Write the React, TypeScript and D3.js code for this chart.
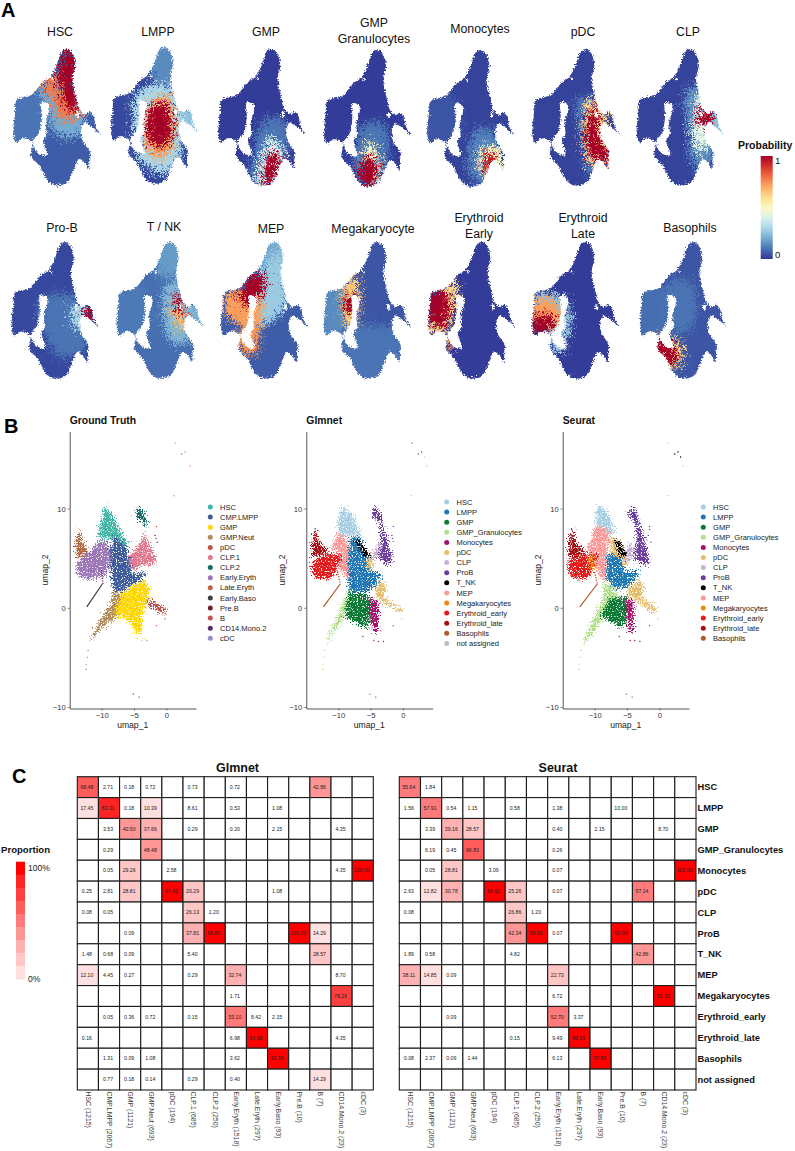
import React, { useEffect, useRef } from "react";
import * as d3 from "d3";

type Pt = [number, number];
type Region = { p: number; pts: Pt[] };
type Cluster = { name: string; pts: Pt[] };
type Dot = [number, number, string];

const FONT = "'Liberation Sans', Arial, sans-serif";

// panel A: shape of the embedding, in its own units
const outline: Pt[] = [
  [8, 0], [23, 15], [31, 50], [23, 90], [35, 150], [43, 180], [60, 195], [73, 188], [85, 200], [91, 230],
  [105, 255], [83, 235], [68, 225], [61, 220], [50, 235], [51, 270], [75, 310], [73, 330], [71, 360], [58, 340],
  [43, 330], [23, 370], [8, 400], [-27, 410], [-52, 395], [-77, 350], [-102, 320], [-99, 280], [-127, 268],
  [-147, 280], [-155, 255], [-150, 190], [-145, 153], [-100, 138], [-67, 100], [-45, 85], [-28, 55], [-17, 25], [-8, 5],
];
const holeMain: Pt[] = [
  [-70, 160], [-50, 165], [-48, 185], [-58, 220], [-56, 258], [-66, 272], [-55, 318], [-75, 316], [-93, 296],
  [-97, 278], [-78, 250], [-70, 205],
];
const holeRight: Pt[] = [[35, 185], [43, 190], [42, 205], [33, 200]];
const holeTop: Pt[] = [[-42, 85], [-32, 88], [-35, 95]];

const lobeArea: Pt[] = [[-165, 140], [-70, 140], [-60, 270], [-150, 295], [-170, 250]];
const topArea: Pt[] = [[-30, -5], [40, -5], [40, 100], [-30, 100]];
const wingArea: Pt[] = [[55, 185], [115, 185], [115, 265], [55, 240]];
const lowerArea: Pt[] = [[-110, 270], [80, 270], [80, 420], [-110, 420]];

const hscRegions: Region[] = [
  { p: 0.1, pts: lobeArea },
  { p: 0.2, pts: [[-80, 120], [45, 120], [55, 250], [-20, 260], [-60, 170]] },
  { p: 0.78, pts: [[-70, 105], [-25, 75], [-20, 130], [30, 150], [50, 195], [-5, 215], [-40, 150]] },
  { p: 1, pts: [[8, -5], [30, 20], [35, 60], [28, 100], [40, 150], [45, 180], [15, 185], [-10, 150], [-15, 110], [-22, 80], [-12, 30]] },
];
const lmppRegions: Region[] = [
  { p: 0.14, pts: topArea },
  { p: 0.25, pts: wingArea },
  { p: 0.3, pts: [[-85, 150], [-20, 110], [40, 130], [60, 230], [45, 350], [0, 380], [-70, 340], [-85, 250]] },
  { p: 0.72, pts: [[-60, 220], [-30, 160], [10, 145], [35, 200], [40, 260], [20, 320], [-5, 335], [-45, 310]] },
  { p: 1, pts: [[-50, 230], [-30, 175], [5, 165], [25, 210], [25, 270], [5, 300], [-35, 290]] },
];
const gmpRegions: Region[] = [
  { p: 0.1, pts: [[-20, 210], [40, 210], [60, 310], [20, 405], [-60, 405], [-50, 300]] },
  { p: 0.4, pts: [[0, 265], [45, 320], [30, 390], [-40, 410], [-30, 340]] },
  { p: 1, pts: [[10, 300], [30, 340], [15, 380], [-5, 408], [-25, 405], [-15, 360], [-5, 320]] },
];
const granRegions: Region[] = [
  { p: 0.1, pts: [[-40, 220], [25, 220], [40, 320], [10, 400], [-60, 390]] },
  { p: 0.5, pts: [[-15, 270], [10, 330], [10, 400], [-30, 405], [-45, 340]] },
  { p: 1, pts: [[-30, 320], [-5, 320], [5, 370], [-5, 400], [-35, 405], [-52, 370]] },
];
const monoRegions: Region[] = [
  { p: 0.05, pts: lobeArea },
  { p: 0.12, pts: [[-10, 240], [55, 250], [70, 330], [10, 400], [-30, 370]] },
  { p: 0.5, pts: [[10, 290], [70, 300], [70, 355], [35, 375], [5, 370]] },
  { p: 0.95, pts: [[25, 310], [50, 315], [40, 350], [20, 365], [12, 345]] },
];
const pdcRegions: Region[] = [
  { p: 0.1, pts: [[-20, 150], [50, 150], [60, 320], [10, 380], [-10, 260]] },
  { p: 0.6, pts: [[15, 150], [55, 170], [80, 300], [75, 360], [20, 345], [-5, 270]] },
  { p: 1, pts: [[30, 165], [48, 195], [45, 240], [70, 310], [73, 350], [55, 345], [20, 320], [5, 270], [10, 210]] },
];
const clpRegions: Region[] = [
  { p: 0.14, pts: [[-5, 120], [60, 120], [75, 330], [20, 360], [0, 250]] },
  { p: 0.25, pts: wingArea },
  { p: 0.42, pts: [[25, 140], [55, 170], [65, 260], [40, 310], [15, 280], [15, 190]] },
  { p: 1, pts: [[28, 182], [68, 180], [68, 228], [32, 226]] },
];
const probRegions: Region[] = [
  { p: 0.1, pts: [[-70, 170], [55, 170], [60, 330], [-20, 340]] },
  { p: 0.3, pts: [[28, 190], [58, 190], [58, 250], [35, 262]] },
  { p: 1, pts: [[60, 195], [85, 195], [93, 230], [110, 260], [85, 240], [65, 225]] },
];
const tnkRegions: Region[] = [
  { p: 0.11, pts: lobeArea },
  { p: 0.17, pts: topArea },
  { p: 0.2, pts: wingArea },
  { p: 0.22, pts: [[-10, 130], [55, 130], [60, 300], [10, 300]] },
  { p: 0.66, pts: [[10, 185], [50, 200], [50, 260], [25, 250]] },
  { p: 1, pts: [[25, 155], [43, 165], [43, 225], [28, 210]] },
];
const mepRegions: Region[] = [
  { p: 0.2, pts: topArea },
  { p: 0.27, pts: [[-25, 75], [30, 20], [35, 100], [40, 190], [-30, 250]] },
  { p: 0.72, pts: [[-140, 160], [-100, 140], [-60, 110], [-35, 170], [-45, 280], [-80, 260], [-140, 220]] },
  { p: 0.74, pts: [[-103, 265], [-50, 270], [-50, 335], [-90, 330]] },
  { p: 1, pts: [[-70, 105], [-25, 100], [-25, 140], [-50, 175], [-80, 195], [-100, 165]] },
];
const megaRegions: Region[] = [
  { p: 0.14, pts: lobeArea },
  { p: 0.1, pts: lowerArea },
  { p: 0.65, pts: [[-90, 110], [-60, 100], [-55, 220], [-80, 260], [-100, 220]] },
  { p: 1, pts: [[-90, 160], [-65, 165], [-60, 200], [-85, 215]] },
];
const eeRegions: Region[] = [
  { p: 0.6, pts: [[-90, 110], [-70, 130], [-75, 220], [-110, 270], [-150, 285], [-160, 240]] },
  { p: 0.75, pts: [[-100, 275], [-85, 275], [-85, 320], [-100, 325]] },
  { p: 1, pts: [[-155, 190], [-145, 150], [-100, 150], [-90, 220], [-120, 260], [-150, 250]] },
];
const elRegions: Region[] = [
  { p: 0.25, pts: [[-150, 150], [-100, 150], [-50, 180], [-50, 290], [-100, 300]] },
  { p: 0.3, pts: [[-100, 275], [-60, 275], [-60, 330], [-95, 320]] },
  { p: 0.72, pts: [[-150, 180], [-85, 175], [-70, 240], [-110, 270], [-155, 265]] },
  { p: 1, pts: [[-155, 230], [-110, 215], [-85, 240], [-110, 265], [-145, 280], [-155, 265]] },
];
const basoRegions: Region[] = [
  { p: 0.09, pts: lobeArea },
  { p: 0.1, pts: [[-70, 120], [0, 120], [0, 260], [-70, 260]] },
  { p: 0.62, pts: [[-115, 285], [-50, 290], [-25, 330], [-40, 375], [-90, 370]] },
  { p: 1, pts: [[-112, 298], [-85, 285], [-50, 322], [-38, 352], [-60, 368], [-92, 348]] },
];

const probNames = ["HSC", "LMPP", "GMP", "GMP|Granulocytes", "Monocytes", "pDC", "CLP", "Pro-B", "T / NK", "MEP", "Megakaryocyte", "Erythroid|Early", "Erythroid|Late", "Basophils"];
const probBase = [0.06, 0.03, 0.01, 0.01, 0.02, 0.02, 0.02, 0.03, 0.09, 0.06, 0.05, 0.01, 0.01, 0.05];
const probRegionList = [hscRegions, lmppRegions, gmpRegions, granRegions, monoRegions, pdcRegions, clpRegions, probRegions, tnkRegions, mepRegions, megaRegions, eeRegions, elRegions, basoRegions];
// where each small panel sits on the page: x of the shape's origin, y of its top, title position
const probX = [65, 162.7, 270, 375.7, 479, 584, 688.4, 63.3, 168.3, 272.7, 375.7, 480, 584, 691.7];
const probY = [49, 47, 49, 50, 50, 49, 49, 242, 242, 242, 242, 242, 242, 242];
const titleX = [60, 158, 266, 374, 480, 583, 688, 62, 164, 271, 373, 479, 583, 690];
const titleY = [36, 36, 36, 27, 33, 36, 36, 232, 231, 233, 233, 222, 222, 232];
const fieldBox: Pt[] = [[-175, -15], [125, -15], [125, 425], [-175, 425]];

// panel B: clusters in umap coordinates
const gtColors: Record<string, string> = {
  HSC: "#41B6A6", "CMP.LMPP": "#3F5C9A", GMP: "#FFD700", "GMP.Neut": "#B08D5B", pDC: "#C0524E", "CLP.1": "#E07A8E",
  "CLP.2": "#176A6A", "Early.Eryth": "#9C77B8", "Late.Eryth": "#B5673F", "Early.Baso": "#3F3F3F", "Pre.B": "#6E1F28",
  B: "#C2504F", "CD14.Mono.2": "#5A2A6A", cDC: "#9A8CC8",
};
const methodColors: Record<string, string> = {
  HSC: "#A6CEE3", LMPP: "#1F78B4", GMP: "#0B7A34", GMP_Granulocytes: "#B2DF8A", Monocytes: "#A6126B", pDC: "#E5BE6D",
  CLP: "#CAB2D6", ProB: "#6A3D9A", T_NK: "#000000", MEP: "#FB9A99", Megakaryocytes: "#F08A0C", Erythroid_early: "#E31A1C",
  Erythroid_late: "#A50F15", Basophils: "#B15928", "not assigned": "#BEBEBE",
};

const gtClusters: Cluster[] = [
  { name: "GMP.Neut", pts: [[-7.9, 1.9], [-6.9, 1.4], [-7.6, -0.9], [-9.7, -1.8], [-11.3, -3.0], [-12.1, -3.8], [-10.3, -1.3], [-8.7, 0.25]] },
  { name: "GMP", pts: [[-3.3, 2.8], [-2.5, 1.75], [-3.0, 0.7], [-3.8, -0.9], [-3.8, -2.6], [-4.6, -2.5], [-5.9, -1.3], [-7.7, -0.9], [-7.9, -0.4], [-6.9, 1.4], [-5.1, 2.25]] },
  { name: "pDC", pts: [[-2.8, 0.85], [0.1, -0.2], [-0.5, -0.6], [-3, 0.3]] },
  { name: "HSC", pts: [[-9.5, 10.3], [-8.5, 9.5], [-6.9, 7.5], [-5.9, 6.5], [-6.2, 6.1], [-7.9, 7.1], [-9.2, 6.8], [-10.5, 7.1], [-10.3, 8.1], [-9.7, 9.5]] },
  { name: "CLP.1", pts: [[-3.6, 7.6], [-2.8, 6.6], [-1.5, 4.8], [-2, 4.4], [-3.8, 4.3], [-5.1, 3.8], [-5.9, 3.8], [-5.9, 5.1], [-4.6, 6.0], [-3.8, 6.8]] },
  { name: "CLP.2", pts: [[-4.3, 10.2], [-3.6, 9.7], [-3.0, 8.8], [-3.3, 8], [-3.8, 8.8], [-4.8, 9.3]] },
  { name: "Late.Eryth", pts: [[-13.5, 8.1], [-13.1, 6.8], [-12.1, 5.6], [-13.4, 5.1], [-14, 5.1], [-14, 6.5]] },
  { name: "Early.Eryth", pts: [[-10.5, 6.8], [-9.2, 6.6], [-8.6, 5.5], [-8.7, 4.4], [-9.7, 3.1], [-11.8, 2.9], [-13.6, 3.1], [-14.1, 4.4], [-12.8, 5.1], [-11.3, 6.0]] },
  { name: "CMP.LMPP", pts: [[-7.9, 7.2], [-6.9, 6.6], [-6.1, 6.0], [-5.6, 4.4], [-5.4, 3.4], [-3.0, 3.6], [-3.8, 2.9], [-5.1, 2.4], [-6.6, 1.75], [-7.9, 1.6], [-8.5, 2.6], [-8.7, 4.8], [-8.7, 6.1]] },
];
const gtStrips: Cluster[] = [
  { name: "Early.Baso", pts: [[-12.3, 0.1], [-9.9, 2.4]] },
  { name: "CD14.Mono.2", pts: [[-10.0, 3.8], [-9.8, 2.4]] },
];
const glmnetClusters: Cluster[] = [
  { name: "GMP_Granulocytes", pts: [[-8.4, 1.9], [-8, 1.3], [-9.2, -0.9], [-10.8, -2.6], [-12.1, -3.8], [-10.8, -1.9], [-9.5, 0]] },
  { name: "pDC", pts: [[-3.5, 2.8], [-2.5, 2.1], [-3, 1.2], [0.1, -0.3], [-0.7, -0.4], [-4, 1], [-4.3, 1.9]] },
  { name: "GMP", pts: [[-8.4, 1.4], [-5.3, 1.4], [-5, 0], [-5.3, -2], [-6.9, -1.6], [-9, -0.9]] },
  { name: "Monocytes", pts: [[-5.1, 1.1], [-3.8, 0.4], [-3.8, -2.5], [-4.6, -2.3], [-5.1, -0.6]] },
  { name: "HSC", pts: [[-9.6, 10.3], [-7.7, 9.3], [-6.4, 7.1], [-8.4, 7.3], [-10, 7.5], [-10, 8.8]] },
  { name: "MEP", pts: [[-9, 7.3], [-10, 7.5], [-11.2, 6], [-9.7, 5.5], [-10.4, 4.4], [-8.4, 2.8], [-8.2, 4.4], [-8.4, 5.9]] },
  { name: "LMPP", pts: [[-8.2, 7.1], [-6.6, 7.1], [-5.3, 5.1], [-5.1, 3.6], [-3.3, 3.6], [-4, 2.4], [-5.6, 1.6], [-8.4, 1.6], [-8.4, 4.8]] },
  { name: "pDC", pts: [[-5.6, 5.4], [-4.6, 5.4], [-4.5, 4.2], [-5.1, 3.7], [-5.6, 4.3]] },
  { name: "CLP", pts: [[-3.3, 6.8], [-4, 6.1], [-5.1, 5.1], [-4.9, 4.7], [-3.5, 5.5]] },
  { name: "ProB", pts: [[-4.5, 10.2], [-3.5, 9.7], [-3.3, 8.7], [-1.7, 5.1], [-1.55, 4.5], [-2.7, 4.4], [-3.8, 5.1], [-3.3, 6.5], [-3.7, 8.7], [-4.8, 9.3]] },
  { name: "T_NK", pts: [[-7.4, 6.8], [-6.9, 6.9], [-5.2, 5.4], [-5.3, 5.0], [-6.2, 5.4]] },
  { name: "Erythroid_late", pts: [[-13.5, 8.1], [-13, 6.6], [-11.5, 5.6], [-14.1, 5], [-14.1, 6.4]] },
  { name: "Erythroid_early", pts: [[-14.1, 4.6], [-12, 5.4], [-9.5, 5.4], [-10, 4.2], [-10.8, 3.2], [-11.5, 2.9], [-13.6, 3], [-14.1, 3.8]] },
];
const glmnetStrips: Cluster[] = [
  { name: "Basophils", pts: [[-12.3, 0.1], [-9.7, 2.4]] },
  { name: "Basophils", pts: [[-10.1, 3.7], [-9.7, 2.4]] },
];
const seuratClusters: Cluster[] = [
  { name: "GMP_Granulocytes", pts: [[-8.4, 2.7], [-6.9, 1.9], [-6.3, 1.4], [-8.4, -0.6], [-10.3, -2.6], [-12, -3.8], [-10.5, -1.6], [-8.9, 0.6]] },
  { name: "pDC", pts: [[-3.2, 2.9], [-2.3, 2], [-2.8, 1.1], [0, -0.3], [-0.8, -0.5], [-4.6, 1.1], [-5, 1.7]] },
  { name: "GMP", pts: [[-7.6, 1], [-5, 1.2], [-5.2, -1.5], [-6, -2], [-8.3, -1.1], [-9.2, -1]] },
  { name: "Monocytes", pts: [[-5.3, 1.1], [-4, 0.6], [-3.9, -2.5], [-4.6, -2.3], [-5.1, -0.6]] },
  { name: "HSC", pts: [[-9.4, 10.3], [-7.9, 9.6], [-6.9, 7.6], [-7.5, 7.3], [-8.5, 8], [-9.8, 8.2], [-9.9, 9.2]] },
  { name: "MEP", pts: [[-9.9, 8.2], [-8.4, 8], [-7.6, 7.2], [-8.1, 6], [-8.2, 4], [-8, 3], [-8.9, 2.7], [-9.8, 4.3], [-10.7, 5.5], [-11.2, 6], [-10.5, 7]] },
  { name: "pDC", pts: [[-7.8, 7], [-6, 6.8], [-5.2, 5], [-5, 4.2], [-6.5, 4.5], [-7.5, 5.5]] },
  { name: "LMPP", pts: [[-8, 5.5], [-6.5, 5.2], [-5.6, 4.8], [-5.6, 3.7], [-3, 3.7], [-3.8, 2.8], [-5.2, 2], [-6.6, 1.9], [-8.2, 2.8], [-8.3, 4]] },
  { name: "CLP", pts: [[-4.8, 6.5], [-4, 6.3], [-4.3, 4.8], [-5.2, 4.4], [-5.2, 5.2]] },
  { name: "ProB", pts: [[-4.5, 10.2], [-3.5, 9.7], [-3.2, 8.7], [-1.6, 5.1], [-1.5, 4.5], [-2.7, 4.4], [-3.9, 5.1], [-3.5, 6.5], [-3.7, 8.7], [-4.8, 9.3]] },
  { name: "T_NK", pts: [[-7, 6.8], [-6.4, 6.9], [-5.1, 5.5], [-5.4, 5.1], [-6.2, 5.4]] },
  { name: "Erythroid_late", pts: [[-13.4, 8.2], [-13, 6.6], [-11.3, 5.6], [-14.1, 5], [-14.1, 6.4]] },
  { name: "Erythroid_early", pts: [[-14.1, 4.7], [-12, 5.4], [-9.5, 5.4], [-10, 4.2], [-10.8, 3.2], [-11.5, 2.9], [-13.6, 3], [-14.1, 3.8]] },
  { name: "Megakaryocytes", pts: [[-11, 5.2], [-10.2, 5.2], [-10, 3.8], [-10.7, 3.8]] },
];
const seuratStrips: Cluster[] = [
  { name: "Basophils", pts: [[-12.3, 0.1], [-9.6, 2.4]] },
  { name: "Basophils", pts: [[-10, 3.6], [-9.6, 2.4]] },
];

const gtDots: Dot[] = [
  [1.4, 16.6, "CLP.1"], [2.4, 15.5, "B"], [2.9, 15.7, "CLP.1"], [3.7, 14.3, "CLP.1"], [1.2, 11.3, "CLP.1"],
  [-1.5, 8.2, "B"], [-1.75, 7.3, "Pre.B"], [-1.4, 6.6, "Pre.B"], [-1.6, 7.0, "Pre.B"], [-1.5, -1.8, "B"], [-0.2, -1.1, "B"],
  [-5.1, -8.7, "CD14.Mono.2"], [-4.2, -9.0, "Pre.B"], [-3, -3.3, "cDC"], [-3.8, -3.3, "GMP"], [-4.5, -3.1, "GMP"], [-3.3, -3.1, "GMP"],
  [-12.4, -6.2, "GMP.Neut"], [-12.4, -5.7, "GMP.Neut"], [-12.2, -5.0, "GMP.Neut"], [-12.1, -4.3, "GMP.Neut"],
];
const glmnetDots: Dot[] = [
  [1.4, 16.6, "ProB"], [2.4, 15.5, "ProB"], [2.9, 15.7, "ProB"], [3.3, 15.2, "HSC"], [3.7, 14.3, "HSC"], [1.3, 11.3, "HSC"],
  [-1.5, 8.2, "ProB"], [-1.7, 7.3, "ProB"], [-1.5, 6.7, "ProB"], [-1.6, 7.0, "ProB"], [-1.5, -1.8, "Monocytes"], [-0.2, -1.1, "pDC"],
  [-5.1, -8.7, "Monocytes"], [-4.2, -9.0, "GMP"], [-3, -3.4, "Monocytes"], [-3.8, -3.4, "Monocytes"], [-4.5, -3.3, "Monocytes"], [-6.2, -2.9, "GMP"],
  [-12.4, -6.2, "GMP_Granulocytes"], [-12.4, -5.7, "GMP_Granulocytes"], [-12.2, -5.0, "GMP_Granulocytes"], [-12.1, -4.3, "GMP_Granulocytes"],
];
const seuratDots: Dot[] = [
  [1.4, 16.6, "pDC"], [2.4, 15.5, "T_NK"], [2.9, 15.7, "T_NK"], [3.3, 15.2, "T_NK"], [3.7, 14.3, "pDC"], [1.3, 11.3, "pDC"],
  [-1.5, 8.2, "ProB"], [-1.7, 7.3, "ProB"], [-1.3, 6.6, "ProB"], [-1.5, 7.9, "ProB"], [-1.5, -1.8, "Monocytes"], [-0.2, -1.1, "pDC"],
  [-5.1, -8.7, "GMP"], [-4.2, -9.0, "GMP"], [-3, -3.4, "Monocytes"], [-3.8, -3.3, "Monocytes"], [-4.5, -3.3, "Monocytes"], [-6.2, -2.9, "GMP"],
  [-12.4, -6.2, "GMP_Granulocytes"], [-12.4, -5.7, "GMP_Granulocytes"], [-12.2, -5.0, "GMP_Granulocytes"], [-12.1, -4.3, "GMP_Granulocytes"],
];

const gtLegend = ["HSC", "CMP.LMPP", "GMP", "GMP.Neut", "pDC", "CLP.1", "CLP.2", "Early.Eryth", "Late.Eryth", "Early.Baso", "Pre.B", "B", "CD14.Mono.2", "cDC"];
const glmnetLegend = ["HSC", "LMPP", "GMP", "GMP_Granulocytes", "Monocytes", "pDC", "CLP", "ProB", "T_NK", "MEP", "Megakaryocytes", "Erythroid_early", "Erythroid_late", "Basophils", "not assigned"];
const seuratLegend = glmnetLegend.slice(0, 14);

// panel C
const truthColumns = ["HSC (1215)", "CMP.LMPP (2067)", "GMP (1121)", "GMP.Neut (693)", "pDC (194)", "CLP.1 (685)", "CLP.2 (250)", "Early.Eryth (1518)", "Late.Eryth (297)", "Early.Baso (93)", "Pre.B (10)", "B (7)", "CD14.Mono.2 (23)", "cDC (3)"];
const predictedRows = ["HSC", "LMPP", "GMP", "GMP_Granulocytes", "Monocytes", "pDC", "CLP", "ProB", "T_NK", "MEP", "Megakaryocytes", "Erythroid_early", "Erythroid_late", "Basophils", "not assigned"];
const _ = null;
const glmnetMatrix: (number | null)[][] = [
  [68.48, 2.71, 0.18, 0.72, _, 0.73, _, 0.72, _, _, _, 42.86, _, _],
  [17.45, 83.31, 0.18, 10.39, _, 8.61, _, 0.53, _, 1.08, _, _, _, _],
  [_, 3.53, 40.5, 37.66, _, 0.29, _, 0.2, _, 2.15, _, _, 4.35, _],
  [_, 0.29, _, 48.48, _, _, _, _, _, _, _, _, _, _],
  [_, 0.05, 29.26, _, 2.58, _, _, _, _, _, _, _, 4.35, 100],
  [0.25, 2.81, 28.81, _, 97.42, 20.29, _, _, _, 1.08, _, _, _, _],
  [0.08, 0.05, _, _, _, 26.13, 1.2, _, _, _, _, _, _, _],
  [_, _, 0.09, _, _, 37.81, 98.8, _, _, _, 100, 14.29, _, _],
  [1.48, 0.68, 0.09, _, _, 5.4, _, _, _, _, _, 28.57, _, _],
  [12.1, 4.45, 0.27, _, _, 0.29, _, 32.74, _, _, _, _, 8.7, _],
  [_, _, _, _, _, _, _, 1.71, _, _, _, _, 78.26, _],
  [_, 0.05, 0.36, 0.72, _, 0.15, _, 53.1, 8.42, 2.15, _, _, _, _],
  [0.16, _, _, _, _, _, _, 6.98, 91.58, _, _, _, 4.35, _],
  [_, 1.31, 0.09, 1.08, _, _, _, 3.62, _, 93.55, _, _, _, _],
  [_, 0.77, 0.18, 0.14, _, 0.29, _, 0.4, _, _, _, 14.29, _, _],
];
const seuratMatrix: (number | null)[][] = [
  [55.64, 1.84, _, _, _, _, _, _, _, _, _, _, _, _],
  [1.56, 57.91, 0.54, 1.15, _, 0.58, _, 1.38, _, _, 10, _, _, _],
  [_, 3.39, 39.16, 28.57, _, _, _, 0.4, _, 2.15, _, _, 8.7, _],
  [_, 6.19, 0.45, 66.83, _, _, _, 0.26, _, _, _, _, _, _],
  [_, 0.05, 28.81, _, 3.09, _, _, 0.07, _, _, _, _, _, 100],
  [2.63, 12.82, 30.78, _, 96.91, 25.26, _, 0.07, _, _, _, 57.14, _, _],
  [0.08, _, _, _, _, 26.86, 1.2, _, _, _, _, _, _, _],
  [_, _, _, _, _, 42.34, 98.8, 0.07, _, _, 90, _, _, _],
  [1.89, 0.58, _, _, _, 4.82, _, _, _, _, _, 42.86, _, _],
  [38.11, 14.85, 0.09, _, _, _, _, 22.73, _, _, _, _, _, _],
  [_, _, _, _, _, _, _, 6.72, _, _, _, _, 91.3, _],
  [_, _, 0.09, _, _, _, _, 52.7, 3.37, _, _, _, _, _],
  [_, _, _, _, _, 0.15, _, 9.49, 96.63, _, _, _, _, _],
  [0.08, 2.37, 0.09, 1.44, _, _, _, 6.13, _, 97.85, _, _, _, _],
  [_, _, _, _, _, _, _, _, _, _, _, _, _, _],
];
const proportionBreaks = [10.01, 20, 30, 40, 50, 60, 70, 80, 90];
const proportionSteps = ["#FFFFFF", "#FFE0E0", "#FFC6C6", "#FFB0B0", "#FF9696", "#FF7A7A", "#FF5C5C", "#FF4040", "#FF2424", "#FF0000"];

const probColor = (t: number) => d3.interpolateRdYlBu(1 - t);
const proportionColor = d3.scaleThreshold<number, string>().domain(proportionBreaks).range(proportionSteps);

function ProbPanel({ index }: { index: number }) {
  const x = d3.scaleLinear().domain([0, 300]).range([probX[index], probX[index] + 100]);
  const y = d3.scaleLinear().domain([0, 300]).range([probY[index], probY[index] + 100]);
  const path = d3.line<Pt>().x((d) => x(d[0])).y((d) => y(d[1])).curve(d3.curveCatmullRomClosed.alpha(0.5));
  const sharp = d3.line<Pt>().x((d) => x(d[0])).y((d) => y(d[1])).curve(d3.curveLinearClosed);
  const lines = probNames[index].split("|");
  return (
    <g>
      <clipPath id={`shape${index}`}>
        <path d={path(outline) || ""} />
      </clipPath>
      <g filter="url(#edge)">
        <g clipPath={`url(#shape${index})`}>
          <g filter="url(#speckle)">
            <g filter="url(#soft)">
              <path d={sharp(fieldBox) || ""} fill={probColor(probBase[index])} />
              {probRegionList[index].map((r, i) => (
                <path key={i} d={path(r.pts) || ""} fill={probColor(r.p)} />
              ))}
            </g>
          </g>
        </g>
        <path d={path(holeMain) || ""} fill="#fff" />
        <path d={sharp(holeRight) || ""} fill="#fff" />
        <path d={sharp(holeTop) || ""} fill="#fff" />
      </g>
      {lines.map((t, i) => (
        <text key={t} x={titleX[index]} y={titleY[index] + i * 15.5} textAnchor="middle" fontSize={12.3} fill="#111">
          {t}
        </text>
      ))}
    </g>
  );
}

function UmapPanel(props: {
  title: string; left: number; clusters: Cluster[]; strips: Cluster[]; dots: Dot[]; colors: Record<string, string>;
  legend: string[]; legendX: number; legendY: number; labelX: number;
}) {
  const { title, left, clusters, strips, dots, colors, legend, legendX, legendY, labelX } = props;
  const xAxisRef = useRef<SVGGElement>(null);
  const yAxisRef = useRef<SVGGElement>(null);
  const x = d3.scaleLinear().domain([-14.95, 4.6]).range([left, left + 126.3]);
  const y = d3.scaleLinear().domain([-10.15, 17.75]).range([708.5, 431.7]);
  const poly = d3.line<Pt>().x((d) => x(d[0])).y((d) => y(d[1])).curve(d3.curveLinearClosed);
  const open = d3.line<Pt>().x((d) => x(d[0])).y((d) => y(d[1]));

  useEffect(() => {
    const style = (g: any) => {
      g.select(".domain").attr("stroke", "#555").attr("stroke-width", 1);
      g.selectAll(".tick line").attr("stroke", "#444").attr("stroke-width", 0.7);
      g.selectAll(".tick text").attr("fill", "#333").attr("font-size", 7.6).attr("font-family", FONT);
    };
    d3.select(xAxisRef.current as SVGGElement)
      .call(d3.axisBottom(x).tickValues([-10, -5, 0]).tickSize(2).tickSizeOuter(0).tickPadding(2).tickFormat(d3.format("d")) as any)
      .call(style);
    d3.select(yAxisRef.current as SVGGElement)
      .call(d3.axisLeft(y).tickValues([-10, 0, 10]).tickSize(2).tickSizeOuter(0).tickPadding(2).tickFormat(d3.format("d")) as any)
      .call(style);
  }, [left]);

  return (
    <g>
      <text x={left} y={424} fontSize={10.4} fontWeight="bold" fill="#111">{title}</text>
      <g filter="url(#cloud)">
        {clusters.map((c, i) => (
          <path key={i} d={poly(c.pts) || ""} fill={colors[c.name]} />
        ))}
      </g>
      {strips.map((c, i) => (
        <path
          key={i} d={open(c.pts) || ""} fill="none" stroke={colors[c.name]}
          strokeWidth={i === 0 ? 1.2 : 1.4} strokeDasharray={i === 0 ? undefined : "1.2 1.4"}
        />
      ))}
      {dots.map((d, i) => (
        <circle key={i} cx={x(d[0])} cy={y(d[1])} r={0.7} fill={colors[d[2]]} />
      ))}
      <g ref={xAxisRef} transform="translate(0,708.5)" />
      <g ref={yAxisRef} transform={`translate(${left},0)`} />
      <text x={left + 63} y={728} textAnchor="middle" fontSize={8.6} fill="#222">umap_1</text>
      <text transform={`translate(${labelX},570) rotate(-90)`} textAnchor="middle" fontSize={8.6} fill="#222">umap_2</text>
      {legend.map((name, i) => (
        <g key={name} transform={`translate(${legendX},${legendY + i * 10.1})`}>
          <circle r={2.5} fill={colors[name]} />
          <text x={9.8} y={2.6} fontSize={7.5} fill="#222">{name}</text>
        </g>
      ))}
    </g>
  );
}

function Heatmap({ title, titleCx, left, right, matrix, rowLabels }: {
  title: string; titleCx: number; left: number; right: number; matrix: (number | null)[][]; rowLabels: boolean;
}) {
  const x = d3.scaleBand<string>().domain(truthColumns).range([left, right]);
  const y = d3.scaleBand<string>().domain(predictedRows).range([776.7, 1090]);
  const xRef = useRef<SVGGElement>(null);
  useEffect(() => {
    const g = d3.select(xRef.current as SVGGElement).call(d3.axisBottom(x).tickSize(0).tickPadding(0) as any);
    g.select(".domain").remove();
    g.selectAll(".tick text")
      .attr("transform", "translate(0,1.5) rotate(90)")
      .attr("text-anchor", "start")
      .attr("dy", "0.32em")
      .attr("dx", "0")
      .attr("y", 0)
      .attr("fill", "#444")
      .attr("font-size", 6.9)
      .attr("font-family", FONT);
  }, [left, right]);
  return (
    <g>
      <text x={titleCx} y={772} textAnchor="middle" fontSize={12.5} fontWeight="bold" fill="#111">{title}</text>
      {matrix.map((row, r) =>
        row.map((v, c) => (
          <g key={`${r}-${c}`}>
            <rect
              x={x(truthColumns[c])} y={y(predictedRows[r])} width={x.bandwidth()} height={y.bandwidth()}
              fill={v === null ? "#fff" : proportionColor(v)} stroke="#1c1c1c" strokeWidth={1.1}
            />
            {v !== null && (
              <text
                x={(x(truthColumns[c]) as number) + x.bandwidth() / 2 - 1}
                y={(y(predictedRows[r]) as number) + y.bandwidth() / 2 + 1.8}
                textAnchor="middle" fontSize={5.2} fill="#222"
              >
                {v.toFixed(2)}
              </text>
            )}
          </g>
        ))
      )}
      <g ref={xRef} transform="translate(0,1090)" />
      {rowLabels && predictedRows.map((name) => (
        <text key={name} x={right + 1.5} y={(y(name) as number) + y.bandwidth() / 2 + 3.2} fontSize={9.3} fontWeight="bold" fill="#111">
          {name}
        </text>
      ))}
    </g>
  );
}

export default function App() {
  const barStops = d3.range(0, 1.001, 0.1);
  const legendY = d3.scaleBand<number>().domain(d3.range(9)).range([861.7, 979.3]);
  const legendSteps = proportionSteps.slice(1).reverse();
  return (
    <svg
      width={795} height={1151} viewBox="0 0 795 1151"
      style={{ position: "absolute", left: 0, top: 0, display: "block", background: "#fff" }}
      fontFamily={FONT}
    >
      <defs>
        <filter id="soft" colorInterpolationFilters="sRGB" x="-10%" y="-10%" width="120%" height="120%">
          <feGaussianBlur stdDeviation="1.8" />
        </filter>
        <filter id="speckle" colorInterpolationFilters="sRGB" x="-5%" y="-5%" width="110%" height="110%">
          <feTurbulence type="fractalNoise" baseFrequency="0.9" numOctaves="1" seed="4" result="n" />
          <feDisplacementMap in="SourceGraphic" in2="n" scale="34" xChannelSelector="R" yChannelSelector="G" />
        </filter>
        <filter id="edge" colorInterpolationFilters="sRGB" x="-5%" y="-5%" width="110%" height="110%">
          <feTurbulence type="fractalNoise" baseFrequency="0.7" numOctaves="2" seed="9" result="n" />
          <feDisplacementMap in="SourceGraphic" in2="n" scale="5" xChannelSelector="R" yChannelSelector="G" />
        </filter>
        <filter id="cloud" colorInterpolationFilters="sRGB" x="-5%" y="-5%" width="110%" height="110%">
          <feTurbulence type="fractalNoise" baseFrequency="0.8" numOctaves="1" seed="7" result="n" />
          <feDisplacementMap in="SourceGraphic" in2="n" scale="16" xChannelSelector="R" yChannelSelector="G" result="moved" />
          <feColorMatrix in="n" type="matrix" values="0 0 0 0 0  0 0 0 0 0  0 0 0 0 0  0 0 9 0 -2.8" result="mask" />
          <feComposite in="moved" in2="mask" operator="in" />
        </filter>
        <linearGradient id="probBar" x1="0" y1="1" x2="0" y2="0">
          {barStops.map((t) => (
            <stop key={t} offset={t} stopColor={probColor(t)} />
          ))}
        </linearGradient>
      </defs>

      <text x={1} y={17} fontSize={20} fontWeight="bold" fill="#000">A</text>
      <text x={4} y={433} fontSize={20} fontWeight="bold" fill="#000">B</text>
      <text x={12} y={783} fontSize={20} fontWeight="bold" fill="#000">C</text>

      {probNames.map((_n, i) => (
        <ProbPanel key={i} index={i} />
      ))}

      <text x={738} y={149} fontSize={10.5} fontWeight="bold" fill="#111">Probability</text>
      <rect x={760.7} y={156} width={12} height={103} fill="url(#probBar)" />
      <text x={775} y={164} fontSize={9.5} fill="#111">1</text>
      <text x={775} y={258} fontSize={9.5} fill="#111">0</text>

      <UmapPanel title="Ground Truth" left={69.7} clusters={gtClusters} strips={gtStrips} dots={gtDots} colors={gtColors} legend={gtLegend} legendX={210.3} legendY={507} labelX={48} />
      <UmapPanel title="Glmnet" left={306.3} clusters={glmnetClusters} strips={glmnetStrips} dots={glmnetDots} colors={methodColors} legend={glmnetLegend} legendX={446.7} legendY={502} labelX={285} />
      <UmapPanel title="Seurat" left={562.7} clusters={seuratClusters} strips={seuratStrips} dots={seuratDots} colors={methodColors} legend={seuratLegend} legendX={703.3} legendY={507} labelX={541} />

      <Heatmap title="Glmnet" titleCx={237.5} left={77.3} right={373.3} matrix={glmnetMatrix} rowLabels={false} />
      <Heatmap title="Seurat" titleCx={558} left={399.3} right={696} matrix={seuratMatrix} rowLabels={true} />

      <text x={1} y={853} fontSize={9.6} fontWeight="bold" fill="#111">Proportion</text>
      {legendSteps.map((c, i) => (
        <rect key={c} x={16} y={legendY(i)} width={9} height={legendY.bandwidth() + 0.3} fill={c} />
      ))}
      <text x={28} y={871} fontSize={8.6} fill="#222">100%</text>
      <text x={28} y={982} fontSize={8.6} fill="#222">0%</text>
    </svg>
  );
}
